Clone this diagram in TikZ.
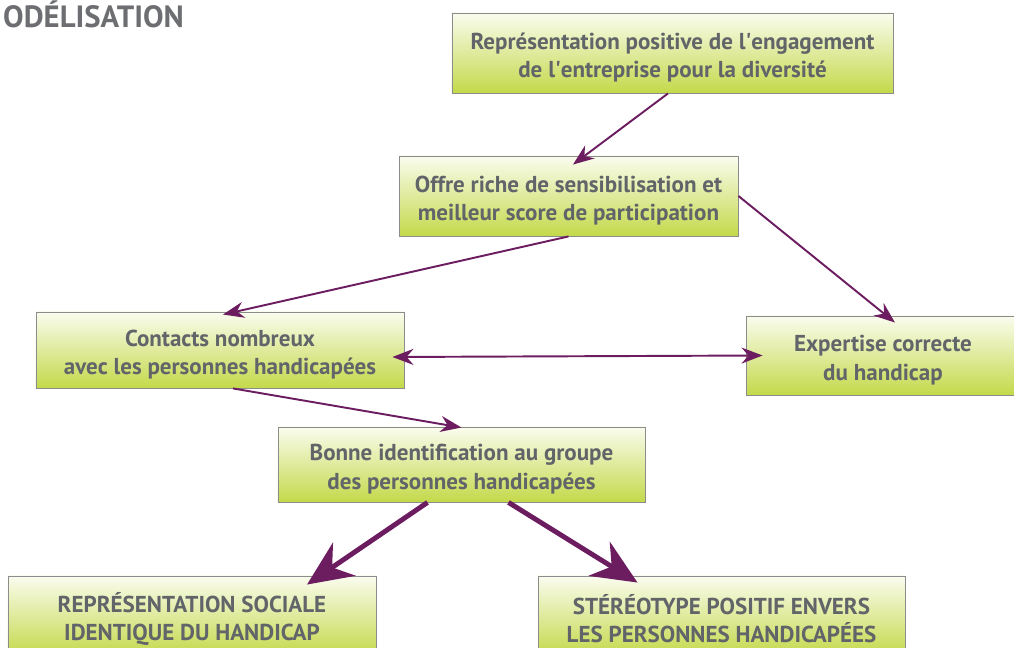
\documentclass[tikz,border=0pt]{standalone}
\usepackage{fontspec}
\setmainfont{PT Sans}
\usetikzlibrary{arrows.meta}
\definecolor{boxtop}{HTML}{FAFCEE}
\definecolor{boxbottom}{HTML}{C4D94A}
\definecolor{boxline}{HTML}{8C8C8C}
\definecolor{textgray}{HTML}{616468}
\definecolor{titlegray}{HTML}{6D6E71}
\definecolor{plum}{HTML}{6C1D60}
\newcommand\boxstrut{\rule{0pt}{5.1mm}}
\begin{document}
\begin{tikzpicture}[x=0.2mm,y=-0.2mm,
    box/.style={draw=boxline,line width=0.5pt,top color=boxtop,bottom color=boxbottom,
                font=\fontsize{13.1}{16}\selectfont\bfseries,text=textgray,align=center,
                inner sep=0pt,minimum height=16mm},
    thin arrow/.style={draw=plum,line width=1.1pt,-{Stealth[length=4.2mm,width=3.2mm]}},
    both arrow/.style={draw=plum,line width=1.1pt,{Stealth[length=4.2mm,width=3.2mm]}-{Stealth[length=4.2mm,width=3.2mm]}},
    thick arrow/.style={draw=plum,line width=2.8pt,-{Stealth[length=9mm,width=8mm]}}]
    \useasboundingbox (0,0) rectangle (1014,648);
    \node[anchor=west,text=titlegray,font=\fontsize{17.5}{20}\selectfont\bfseries] (title) at (-3,14) {ODÉLISATION};
    \node[box,minimum width=88.2mm] (image) at (672.5,53) {\boxstrut Représentation positive de l\textquotesingle engagement\\de l\textquotesingle entreprise pour la diversité};
    \node[box,minimum width=67.8mm] (offre) at (568.5,196) {\boxstrut Offre riche de sensibilisation et\\meilleur score de participation};
    \node[box,minimum width=73.6mm,minimum height=15.2mm] (contacts) at (220,350) {\boxstrut Contacts nombreux\\avec les personnes handicapées};
    \node[box,minimum width=54.8mm,minimum height=15.8mm] (expertise) at (883,355.5) {\boxstrut Expertise correcte\\du handicap};
    \node[box,minimum width=73.4mm,minimum height=15mm] (identification) at (461.5,464.5) {\boxstrut Bonne identification au groupe\\des personnes handicapées};
    \node[box,minimum width=73.6mm] (representation) at (192,616) {\boxstrut REPRÉSENTATION SOCIALE\\IDENTIQUE DU HANDICAP};
    \node[box,minimum width=73.4mm] (stereotype) at (721.5,616) {\boxstrut STÉRÉOTYPE POSITIF ENVERS\\LES PERSONNES HANDICAPÉES};
    \draw[thin arrow] ([shift={(-4.5,0)}]image.south) -- ([shift={(4.5,9)}]offre.north);
    \draw[thin arrow] (offre.south) -- ([shift={(3,3)}]contacts.north);
    \draw[thin arrow] (offre.east) -- ([shift={(12,7)}]expertise.north);
    \draw[both arrow] ([shift={(-12,7)}]contacts.east) -- ([shift={(17,0)}]expertise.west);
    \draw[thin arrow] ([shift={(13,0)}]contacts.south) -- ([shift={(0,1)}]identification.north);
    \draw[thick arrow] ([shift={(-34,0)}]identification.south) -- ([shift={(115,9)}]representation.north);
    \draw[thick arrow] ([shift={(47,0)}]identification.south) -- ([shift={(-84,7)}]stereotype.north);
\end{tikzpicture}
\end{document}
